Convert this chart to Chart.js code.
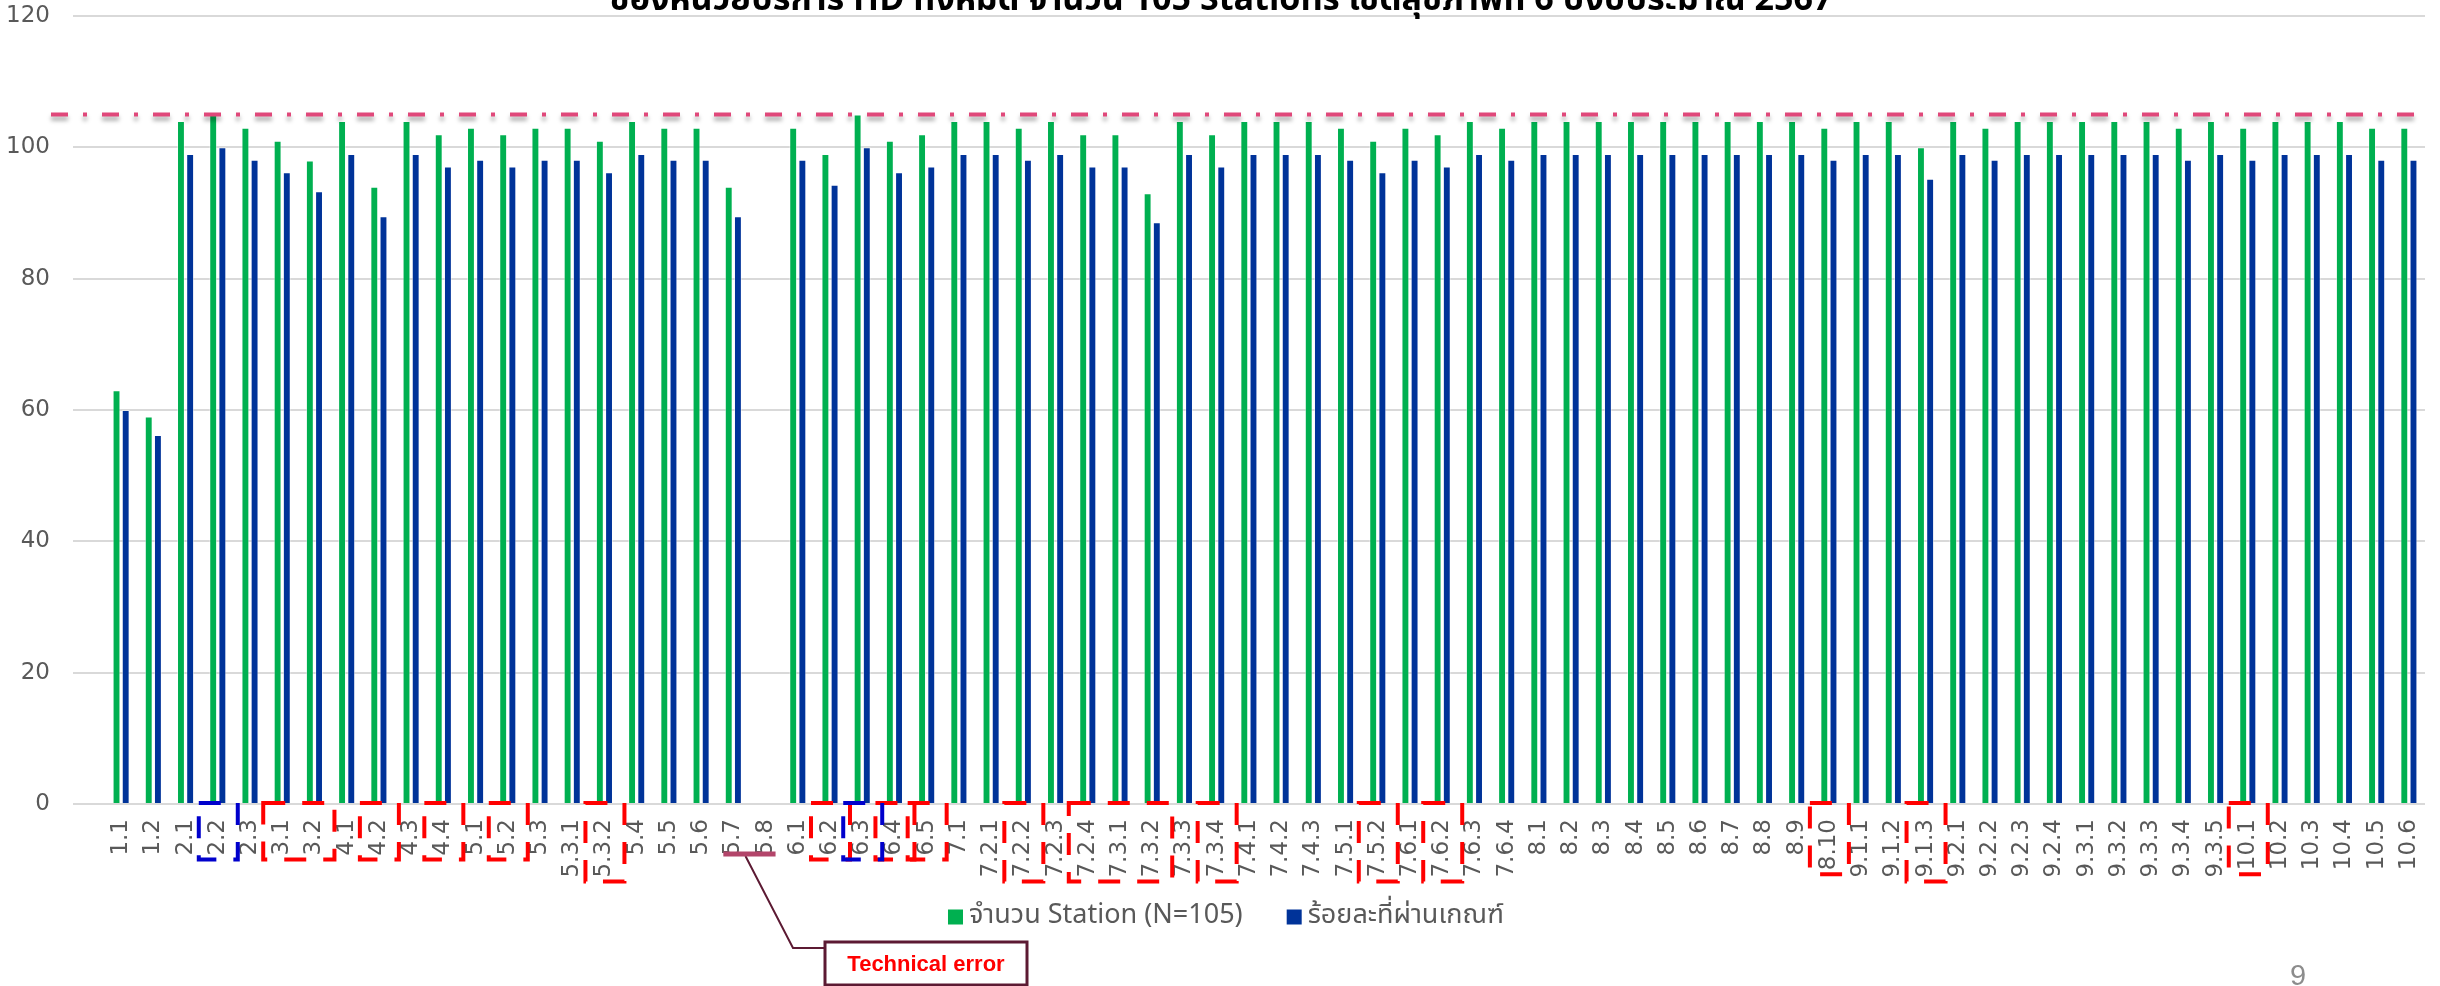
<!DOCTYPE html>
<html><head><meta charset="utf-8">
<script src="https://cdn.jsdelivr.net/npm/chart.js@4.4.1/dist/chart.umd.min.js"></script>
<style>html,body{margin:0;padding:0;background:#fff;overflow:hidden}#wrap{width:2440px;height:986px;position:relative}canvas{display:block}</style>
</head><body><div id="wrap"><canvas id="c" width="2440" height="986"></canvas></div>
<script>
// ---------- data ----------
const categories = ['1.1','1.2','2.1','2.2','2.3','3.1','3.2','4.1','4.2','4.3','4.4','5.1','5.2','5.3','5.3.1','5.3.2','5.4','5.5','5.6','5.7','5.8','6.1','6.2','6.3','6.4','6.5','7.1','7.2.1','7.2.2','7.2.3','7.2.4','7.3.1','7.3.2','7.3.3','7.3.4','7.4.1','7.4.2','7.4.3','7.5.1','7.5.2','7.6.1','7.6.2','7.6.3','7.6.4','8.1','8.2','8.3','8.4','8.5','8.6','8.7','8.8','8.9','8.10','9.1.1','9.1.2','9.1.3','9.2.1','9.2.2','9.2.3','9.2.4','9.3.1','9.3.2','9.3.3','9.3.4','9.3.5','10.1','10.2','10.3','10.4','10.5','10.6'];
const stationCounts = [63,59,104,105,103,101,98,104,94,104,102,103,102,103,103,101,104,103,103,94,null,103,99,105,101,102,104,104,103,104,102,102,93,104,102,104,104,104,103,101,103,102,104,103,104,104,104,104,104,104,104,104,104,103,104,104,100,104,103,104,104,104,104,104,103,104,103,104,104,104,103,103];
const passPercent = [60.0,56.2,99.0,100,98.1,96.2,93.3,99.0,89.5,99.0,97.1,98.1,97.1,98.1,98.1,96.2,99.0,98.1,98.1,89.5,null,98.1,94.3,100,96.2,97.1,99.0,99.0,98.1,99.0,97.1,97.1,88.6,99.0,97.1,99.0,99.0,99.0,98.1,96.2,98.1,97.1,99.0,98.1,99.0,99.0,99.0,99.0,99.0,99.0,99.0,99.0,99.0,98.1,99.0,99.0,95.2,99.0,98.1,99.0,99.0,99.0,99.0,99.0,98.1,99.0,98.1,99.0,99.0,99.0,98.1,98.1];
const seriesNames = ['จำนวน Station (N=105)', 'ร้อยละที่ผ่านเกณฑ์'];
const yTickValues = [0,20,40,60,80,100,120];
const targetLine = 105;
const titleText = 'ของหน่วยบริการ HD ทั้งหมด จำนวน 105 Stations เขตสุขภาพที่ 6 ปีงบประมาณ 2567';
const redBoxGroups = [['3.1','3.2'],['4.2'],['4.4'],['5.2'],['5.3.2'],['6.2'],['6.4'],['6.5'],['7.2.2'],['7.2.4','7.3.2'],['7.3.4'],['7.5.2'],['7.6.2'],['8.10'],['9.1.3'],['10.1']];
const blueBoxGroups = [['2.2'],['6.3']];
const errorCategories = ['5.7','5.8'];
const errorNote = 'Technical error';
const pageNumber = '9';

// ---------- styles ----------
const GREEN = '#00B050', BLUE = '#003399';
const TICK_FONT = {family:'"DejaVu Sans", Verdana, sans-serif', size:23};
const Y_FONT = {family:'"DejaVu Sans", Verdana, sans-serif', size:23};
const THAI_FAMILY = '"Noto Sans Thai","Tahoma","DejaVu Sans","Noto Sans",sans-serif';
const X_PAD = 15;

const overlayPlugin = {
  id:'overlay',
  afterDatasetsDraw(chart){
    const ctx = chart.ctx, y = chart.scales.y, area = chart.chartArea;
    const py = y.getPixelForValue(targetLine);
    ctx.save();
    ctx.strokeStyle = '#E0487A';
    ctx.lineWidth = 4;
    ctx.setLineDash([17,15,4,15]);
    ctx.shadowColor = 'rgba(0,0,0,0.35)';
    ctx.shadowBlur = 4;
    ctx.shadowOffsetY = 4;
    ctx.beginPath();
    ctx.moveTo(51, py);
    ctx.lineTo(area.right - 4, py);
    ctx.stroke();
    ctx.restore();
  },
  afterDraw(chart){
    const ctx = chart.ctx, xs = chart.scales.x, area = chart.chartArea;
    const base = area.bottom;
    ctx.save();
    ctx.font = TICK_FONT.size + 'px ' + TICK_FONT.family;
    const drawGroups = (groups, color) => {
      ctx.strokeStyle = color;
      ctx.lineWidth = 4;
      ctx.setLineDash([22,17]);
      groups.forEach(g => {
        const i0 = categories.indexOf(g[0]), i1 = categories.indexOf(g[g.length-1]);
        let w = 0;
        for (let i=i0;i<=i1;i++) w = Math.max(w, ctx.measureText(categories[i]).width);
        const x1 = xs.getPixelForValue(i0) - 19, x2 = xs.getPixelForValue(i1) + 20;
        const y1 = base - 1, y2 = base + X_PAD + w + 4;
        ctx.strokeRect(x1, y1, x2 - x1, y2 - y1);
      });
    };
    drawGroups(redBoxGroups, '#FF0000');
    drawGroups(blueBoxGroups, '#0000CC');
    ctx.setLineDash([]);

    // technical error callout
    const ia = categories.indexOf(errorCategories[0]), ib = categories.indexOf(errorCategories[1]);
    const xa = xs.getPixelForValue(ia) - 10, xb = xs.getPixelForValue(ib) + 10;
    const uy = base + 50;
    const bx = 825, by = 942, bw = 202, bh = 43;
    ctx.strokeStyle = '#5C1A33';
    ctx.lineWidth = 2;
    ctx.beginPath();
    ctx.moveTo((xa + xb)/2 - 4, uy + 2);
    ctx.lineTo(793, by + 6);
    ctx.lineTo(bx, by + 6);
    ctx.stroke();
    ctx.fillStyle = '#B3456A';
    ctx.fillRect(xa, uy - 2.5, xb - xa, 5);
    ctx.fillStyle = '#FFFFFF';
    ctx.fillRect(bx, by, bw, bh);
    ctx.lineWidth = 3;
    ctx.strokeRect(bx, by, bw, bh);
    ctx.fillStyle = '#FF0000';
    ctx.font = 'bold 22px "Liberation Sans", Arial, sans-serif';
    ctx.textAlign = 'center';
    ctx.textBaseline = 'middle';
    ctx.fillText(errorNote, bx + bw/2, by + bh/2 + 1);

    // title (clipped at top as in reference)
    ctx.fillStyle = '#000000';
    ctx.font = 'bold 40px ' + THAI_FAMILY;
    const tw = ctx.measureText(titleText).width;
    const ts = 40 * 1225 / tw;
    ctx.font = 'bold ' + ts.toFixed(1) + 'px ' + THAI_FAMILY;
    ctx.textAlign = 'center';
    ctx.textBaseline = 'alphabetic';
    ctx.fillText(titleText, 1221, 10);

    // legend
    ctx.font = '27px ' + THAI_FAMILY;
    ctx.textBaseline = 'middle';
    ctx.textAlign = 'left';
    const colors = [GREEN, BLUE];
    const box = 15, gap = 6, sep = 44;
    const widths = seriesNames.map(s => ctx.measureText(s).width);
    const total = widths.reduce((a,b)=>a+b,0) + 2*(box+gap) + sep;
    let lx = 1226 - total/2;
    const ly = 917;
    seriesNames.forEach((s, k) => {
      ctx.fillStyle = colors[k];
      ctx.fillRect(lx, ly - box/2, box, box);
      ctx.fillStyle = '#595959';
      ctx.fillText(s, lx + box + gap, ly + 1);
      lx += box + gap + widths[k] + sep;
    });

    // page number
    ctx.fillStyle = '#8C8C8C';
    ctx.font = '29px "Liberation Sans", Arial, sans-serif';
    ctx.textAlign = 'center';
    ctx.textBaseline = 'alphabetic';
    ctx.fillText(pageNumber, 2298, 985);
    ctx.restore();
  }
};

new Chart(document.getElementById('c'), {
  type:'bar',
  data:{
    labels: categories,
    datasets:[
      {label: seriesNames[0], data: stationCounts, backgroundColor: GREEN, borderColor:'rgba(255,255,255,0.45)', borderWidth:1,
       categoryPercentage:0.57, barPercentage:0.86},
      {label: seriesNames[1], data: passPercent, backgroundColor: BLUE, borderColor:'rgba(255,255,255,0.45)', borderWidth:1,
       categoryPercentage:0.57, barPercentage:0.86}
    ]
  },
  options:{
    responsive:false, animation:false, devicePixelRatio:1,
    layout:{padding:{left:0,right:15,top:16,bottom:0}},
    plugins:{legend:{display:false}, tooltip:{enabled:false}, title:{display:false}},
    scales:{
      x:{
        offset:true,
        grid:{display:false, drawTicks:false},
        border:{display:false},
        ticks:{autoSkip:false, minRotation:90, maxRotation:90, padding:X_PAD, color:'#595959', font:TICK_FONT},
        afterFit(s){ s.height = 182; s.paddingLeft = 0; s.paddingRight = 0; }
      },
      y:{
        min: yTickValues[0], max: yTickValues[yTickValues.length-1],
        afterBuildTicks(s){ s.ticks = yTickValues.map(v => ({value:v})); },
        ticks:{padding:23, color:'#595959', font:Y_FONT},
        grid:{color:'#D9D9D9', lineWidth:2, drawTicks:true, tickLength:32},
        border:{display:false},
        afterFit(s){ s.width = 105; s.paddingTop = 0; s.paddingBottom = 0; }
      }
    }
  },
  plugins:[overlayPlugin]
});
</script>
</body></html>
